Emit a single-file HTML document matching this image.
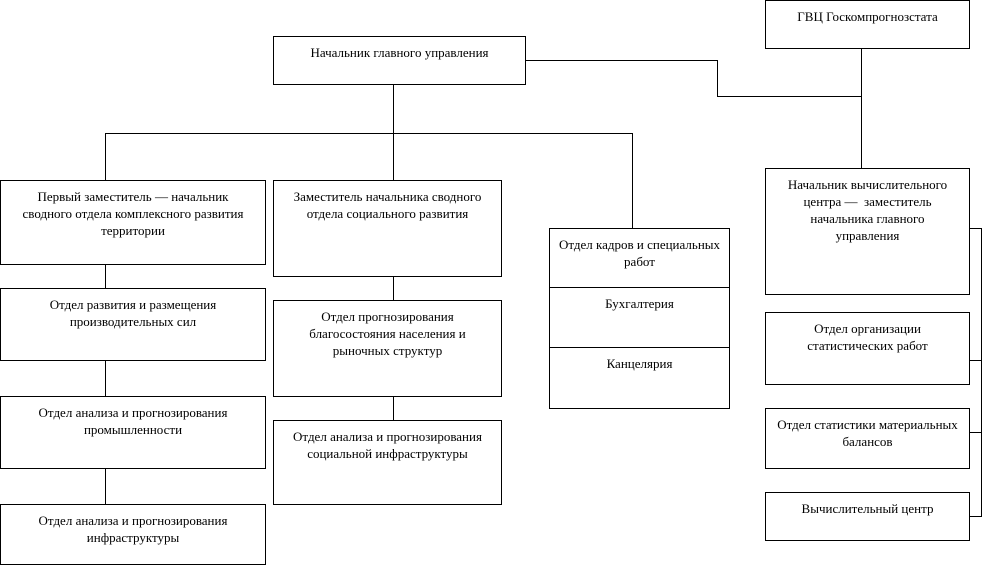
<!DOCTYPE html>
<html><head><meta charset="utf-8"><style>
body{margin:0;width:983px;height:566px;background:#fff;position:relative;overflow:hidden;font-family:"Liberation Serif","Noto Serif CJK SC",serif;font-size:13px;color:#000}
.b{position:absolute;border:1px solid #000;box-sizing:border-box;text-align:center;line-height:17px;padding-top:7px;white-space:nowrap}
.h{position:absolute;height:1px;background:#000}
.v{position:absolute;width:1px;background:#000}
</style></head><body>
<div class="b" style="left:765px;top:0;width:205px;height:49px">ГВЦ Госкомпрогнозстата</div>
<div class="b" style="left:273px;top:36px;width:253px;height:49px">Начальник главного управления</div>
<div class="h" style="left:525px;top:60px;width:193px"></div>
<div class="v" style="left:717px;top:60px;height:37px"></div>
<div class="h" style="left:717px;top:96px;width:145px"></div>
<div class="v" style="left:861px;top:48px;height:121px"></div>
<div class="v" style="left:393px;top:84px;height:50px"></div>
<div class="h" style="left:105px;top:133px;width:528px"></div>
<div class="v" style="left:105px;top:133px;height:48px"></div>
<div class="v" style="left:393px;top:133px;height:48px"></div>
<div class="v" style="left:632px;top:133px;height:96px"></div>

<div class="b" style="left:0;top:180px;width:266px;height:85px">Первый заместитель — начальник<br>сводного отдела комплексного развития<br>территории</div>
<div class="v" style="left:105px;top:264px;height:25px"></div>
<div class="b" style="left:0;top:288px;width:266px;height:73px">Отдел развития и размещения<br>производительных сил</div>
<div class="v" style="left:105px;top:360px;height:37px"></div>
<div class="b" style="left:0;top:396px;width:266px;height:73px">Отдел анализа и прогнозирования<br>промышленности</div>
<div class="v" style="left:105px;top:468px;height:37px"></div>
<div class="b" style="left:0;top:504px;width:266px;height:61px">Отдел анализа и прогнозирования<br>инфраструктуры</div>

<div class="b" style="left:273px;top:180px;width:229px;height:97px">Заместитель начальника сводного<br>отдела социального развития</div>
<div class="v" style="left:393px;top:276px;height:25px"></div>
<div class="b" style="left:273px;top:300px;width:229px;height:97px">Отдел прогнозирования<br>благосостояния населения и<br>рыночных структур</div>
<div class="v" style="left:393px;top:396px;height:25px"></div>
<div class="b" style="left:273px;top:420px;width:229px;height:85px">Отдел анализа и прогнозирования<br>социальной инфраструктуры</div>

<div class="b" style="left:549px;top:228px;width:181px;height:181px;padding:0">
<div style="height:59px;border-bottom:1px solid #000;padding-top:7px;box-sizing:border-box">Отдел кадров и специальных<br>работ</div>
<div style="height:60px;border-bottom:1px solid #000;padding-top:7px;box-sizing:border-box">Бухгалтерия</div>
<div style="padding-top:7px">Канцелярия</div>
</div>

<div class="b" style="left:765px;top:168px;width:205px;height:127px">Начальник вычислительного<br>центра — &nbsp;заместитель<br>начальника главного<br>управления</div>
<div class="b" style="left:765px;top:312px;width:205px;height:73px">Отдел организации<br>статистических работ</div>
<div class="b" style="left:765px;top:408px;width:205px;height:61px">Отдел статистики материальных<br>балансов</div>
<div class="b" style="left:765px;top:492px;width:205px;height:49px">Вычислительный центр</div>
<div class="v" style="left:981px;top:228px;height:289px"></div>
<div class="h" style="left:969px;top:228px;width:13px"></div>
<div class="h" style="left:969px;top:360px;width:13px"></div>
<div class="h" style="left:969px;top:432px;width:13px"></div>
<div class="h" style="left:969px;top:516px;width:13px"></div>
</body></html>
